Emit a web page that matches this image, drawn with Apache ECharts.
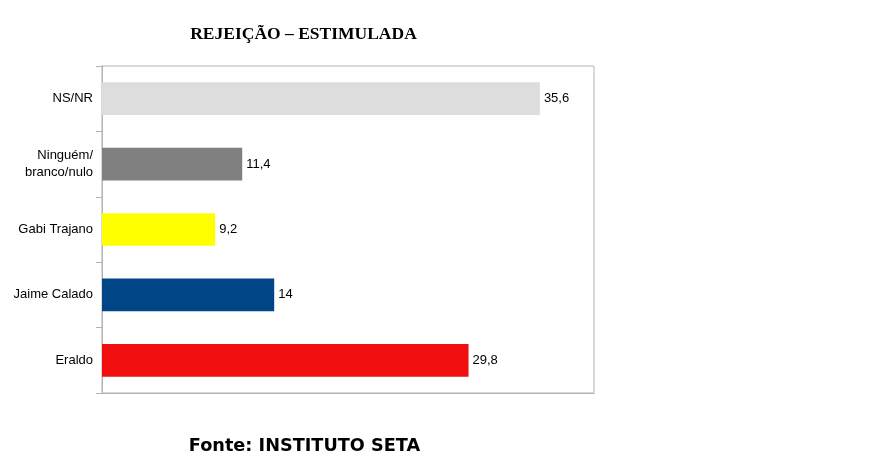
<!DOCTYPE html>
<html><head><meta charset="utf-8">
<script src="https://cdn.jsdelivr.net/npm/echarts@6/dist/echarts.min.js"></script>
<style>html,body{margin:0;padding:0;background:#fff}#c{width:892px;height:469px}</style>
</head><body><div id="c"></div>
<script>
const categories = ['NS/NR', 'Ninguém/\nbranco/nulo', 'Gabi Trajano', 'Jaime Calado', 'Eraldo'];
const values = [35.6, 11.4, 9.2, 14, 29.8];
const colors = ['#dddddd', '#808080', '#ffff00', '#004586', '#f00e0e'];
const titleText = 'REJEIÇÃO – ESTIMULADA';
const sourceText = 'Fonte: INSTITUTO SETA';

const chart = echarts.init(document.getElementById('c'));
chart.setOption({
  animation: false,
  graphic: [
    { type: 'text', x: 303.5, y: 34.5,
      style: { text: titleText, textAlign: 'center', textVerticalAlign: 'middle',
        font: 'bold 17.5px "Liberation Serif"', fill: '#000' } },
    { type: 'text', x: 304.5, y: 446.5,
      style: { text: sourceText, textAlign: 'center', textVerticalAlign: 'middle',
        font: 'bold 17.7px "DejaVu Sans"', fill: '#000' } }
  ],
  grid: { left: 102, top: 66, width: 492, height: 327, show: true, borderColor: '#b3b3b3', borderWidth: 1, containLabel: false },
  xAxis: { type: 'value', min: 0, max: 40, axisLabel: { show: false }, splitLine: { show: false },
    axisLine: { show: true, lineStyle: { color: '#b3b3b3' } }, axisTick: { show: false } },
  yAxis: { type: 'category', data: categories, inverse: true,
    axisLine: { show: true, lineStyle: { color: '#b3b3b3' } },
    axisTick: { show: true, length: 6, lineStyle: { color: '#b3b3b3' } },
    axisLabel: { fontFamily: 'Liberation Sans', fontSize: 13, color: '#000', margin: 9, lineHeight: 17, align: 'right', padding: [4, 0, 0, 0] } },
  series: [{
    type: 'bar', barWidth: '50%',
    data: values.map((v, i) => ({ value: v, itemStyle: { color: colors[i] } })),
    label: { show: true, position: 'right', distance: 4, fontFamily: 'Liberation Sans', fontSize: 13, color: '#000',
      padding: [2, 0, 0, 0],
      formatter: p => String(p.value).replace('.', ',') }
  }]
});
</script></body></html>
